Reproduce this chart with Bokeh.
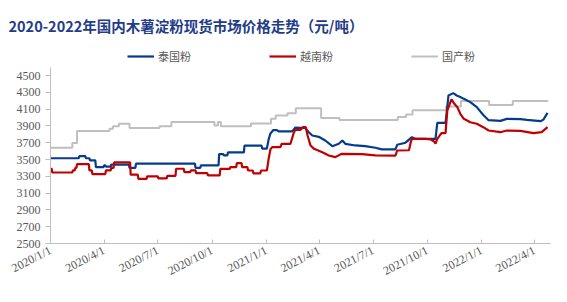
import math
from datetime import datetime
from bokeh.plotting import figure
from bokeh.models import (FixedTicker, Range1d, Legend, LegendItem)
from bokeh.embed import file_html
from bokeh.resources import INLINE

title_text = "2020-2022年国内木薯淀粉现货市场价格走势（元/吨）"
series_names = ["泰国粉", "越南粉", "国产粉"]

x_tick_dates = ["2020-01-01", "2020-04-01", "2020-07-01", "2020-10-01", "2021-01-01",
                "2021-04-01", "2021-07-01", "2021-10-01", "2022-01-01", "2022-04-01"]
x_tick_labels = ["2020/1/1", "2020/4/1", "2020/7/1", "2020/10/1", "2021/1/1",
                 "2021/4/1", "2021/7/1", "2021/10/1", "2022/1/1", "2022/4/1"]
y_ticks = [2500, 2700, 2900, 3100, 3300, 3500, 3700, 3900, 4100, 4300, 4500]

# 泰国粉
thai_dates = ["2020-01-01", "2020-02-18", "2020-02-19", "2020-02-29", "2020-03-01", "2020-03-07",
              "2020-03-08", "2020-03-17", "2020-03-18", "2020-03-31", "2020-04-01", "2020-04-03",
              "2020-04-04", "2020-04-12", "2020-04-13", "2020-05-13", "2020-05-14", "2020-05-24",
              "2020-05-25", "2020-09-02", "2020-09-03", "2020-09-11", "2020-09-12", "2020-10-12",
              "2020-10-13", "2020-10-20", "2020-10-21", "2020-10-27", "2020-10-28", "2020-11-24",
              "2020-11-25", "2020-12-24", "2020-12-25", "2021-01-02", "2021-01-05", "2021-01-08",
              "2021-01-13", "2021-01-19", "2021-01-22", "2021-02-14", "2021-02-19", "2021-03-08",
              "2021-03-14", "2021-03-20", "2021-03-31", "2021-04-11", "2021-04-23", "2021-05-04",
              "2021-05-10", "2021-05-15", "2021-06-01", "2021-06-18", "2021-07-05", "2021-07-16",
              "2021-08-08", "2021-08-11", "2021-08-25", "2021-09-05", "2021-09-11", "2021-10-15",
              "2021-10-18", "2021-11-01", "2021-11-06", "2021-11-14", "2021-11-20", "2021-11-26",
              "2021-12-02", "2021-12-13", "2021-12-24", "2022-01-04", "2022-01-13", "2022-02-02",
              "2022-02-13", "2022-03-08", "2022-03-19", "2022-04-11", "2022-04-16", "2022-04-23"]
thai_vals = [3515, 3515, 3540, 3540, 3515, 3515,
             3490, 3490, 3410, 3410, 3430, 3430,
             3415, 3415, 3440, 3440, 3400, 3400,
             3450, 3450, 3400, 3400, 3430, 3430,
             3565, 3565, 3550, 3550, 3585, 3585,
             3665, 3665, 3630, 3630, 3740, 3810,
             3850, 3850, 3835, 3835, 3880, 3875,
             3825, 3786, 3770, 3726, 3658, 3687,
             3726, 3687, 3667, 3660, 3640, 3620,
             3620, 3675, 3700, 3766, 3745, 3746,
             3935, 3935, 4262, 4290, 4262, 4245,
             4222, 4183, 4123, 4030, 3968, 3960,
             3984, 3980, 3972, 3956, 3975, 4055]

# 越南粉
viet_dates = ["2020-01-01", "2020-01-03", "2020-01-04", "2020-02-07", "2020-02-08", "2020-02-11",
              "2020-02-12", "2020-02-14", "2020-02-15", "2020-03-06", "2020-03-07", "2020-03-11",
              "2020-03-12", "2020-04-03", "2020-04-04", "2020-04-12", "2020-04-13", "2020-04-17",
              "2020-04-18", "2020-05-15", "2020-05-16", "2020-05-28", "2020-05-29", "2020-06-12",
              "2020-06-13", "2020-07-01", "2020-07-02", "2020-07-16", "2020-07-17", "2020-07-31",
              "2020-08-01", "2020-08-14", "2020-08-15", "2020-08-25", "2020-08-26", "2020-09-03",
              "2020-09-04", "2020-09-23", "2020-09-24", "2020-10-14", "2020-10-15", "2020-10-31",
              "2020-11-01", "2020-11-11", "2020-11-12", "2020-11-20", "2020-11-21", "2020-11-30",
              "2020-12-01", "2020-12-09", "2020-12-10", "2020-12-22", "2020-12-23", "2021-01-02",
              "2021-01-05", "2021-01-08", "2021-01-11", "2021-01-25", "2021-01-27", "2021-02-11",
              "2021-02-16", "2021-02-19", "2021-02-28", "2021-03-04", "2021-03-09", "2021-03-12",
              "2021-03-17", "2021-03-23", "2021-04-06", "2021-04-17", "2021-04-28", "2021-05-09",
              "2021-06-12", "2021-07-05", "2021-08-08", "2021-08-11", "2021-08-31", "2021-09-03",
              "2021-09-05", "2021-09-28", "2021-10-07", "2021-10-12", "2021-10-15", "2021-10-18",
              "2021-10-25", "2021-11-01", "2021-11-04", "2021-11-11", "2021-11-16", "2021-11-21",
              "2021-11-26", "2021-12-02", "2021-12-13", "2021-12-24", "2022-01-04", "2022-01-13",
              "2022-02-02", "2022-02-13", "2022-03-08", "2022-03-30", "2022-04-13", "2022-04-23"]
viet_vals = [3390, 3390, 3345, 3345, 3370, 3370,
             3400, 3400, 3445, 3445, 3370, 3370,
             3325, 3325, 3370, 3370, 3400, 3400,
             3465, 3465, 3320, 3320, 3270, 3270,
             3300, 3300, 3275, 3275, 3305, 3305,
             3390, 3390, 3350, 3350, 3370, 3370,
             3337, 3337, 3310, 3310, 3389, 3389,
             3409, 3409, 3456, 3456, 3409, 3409,
             3369, 3369, 3335, 3335, 3369, 3369,
             3508, 3620, 3647, 3647, 3687, 3687,
             3805, 3853, 3853, 3885, 3885, 3786,
             3667, 3627, 3587, 3548, 3528, 3568,
             3565, 3548, 3545, 3607, 3610, 3706,
             3746, 3746, 3738, 3718, 3690, 3746,
             3813, 3813, 4083, 4215, 4163, 4123,
             4044, 3984, 3944, 3925, 3885, 3845,
             3825, 3845, 3840, 3815, 3825, 3885]

# 国产粉 (change dates, stepwise)
dom_dates = ["2020-01-01", "2020-02-07", "2020-02-15", "2020-04-10", "2020-04-16", "2020-04-26",
             "2020-05-14", "2020-07-04", "2020-07-24", "2020-10-05", "2020-10-11", "2020-10-16",
             "2020-12-06", "2021-01-09", "2021-01-17", "2021-02-06", "2021-02-20", "2021-04-04",
             "2021-05-05", "2021-08-12", "2021-08-26", "2021-09-06", "2021-11-02", "2021-11-27",
             "2022-01-14", "2022-02-23", "2022-04-24"]
dom_vals = [3640, 3695, 3840, 3865, 3895, 3925,
            3875, 3895, 3945, 3905, 3945, 3895,
            3930, 3985, 4025, 4050, 4110, 3995,
            3970, 4005, 4035, 4085, 4130, 4195,
            4150, 4195, 4195]

y_min, y_max = 2500, 4600


def to_dt(lst):
    return [datetime.strptime(s, "%Y-%m-%d") for s in lst]


def to_ms(s):
    return (datetime.strptime(s, "%Y-%m-%d") - datetime(1970, 1, 1)).total_seconds() * 1000.0


W, H = 567, 302
frame_top, frame_bottom = 45, 243
axis_top = 66.6
p = figure(width=W, height=H, x_axis_type="datetime", output_backend="svg",
           toolbar_location=None, min_border_left=50, min_border_right=17,
           min_border_top=frame_top, min_border_bottom=H - frame_bottom)
p.x_range = Range1d(to_ms("2020-01-01"), to_ms("2022-04-28"))
# extra head-room above the axis holds the legend inside the frame
units_per_px = (y_max - y_min) / (frame_bottom - axis_top)
p.y_range = Range1d(y_min, y_max + (axis_top - frame_top) * units_per_px)
p.outline_line_color = None
p.xgrid.visible = False
p.ygrid.visible = False
p.background_fill_color = "white"
p.border_fill_color = "white"

blue, red, gray = "#053B8C", "#C00000", "#BFBFBF"

r_dom = p.step(to_dt(dom_dates), dom_vals, mode="after", line_color=gray, line_width=2)
r_thai = p.line(to_dt(thai_dates), thai_vals, line_color=blue, line_width=2.2)
r_viet = p.line(to_dt(viet_dates), viet_vals, line_color=red, line_width=2.2)

# axes
p.xaxis.ticker = FixedTicker(ticks=[to_ms(d) for d in x_tick_dates])
p.xaxis.major_label_overrides = {to_ms(d): l for d, l in zip(x_tick_dates, x_tick_labels)}
p.xaxis.major_label_orientation = math.radians(27)
p.yaxis.ticker = FixedTicker(ticks=y_ticks)
p.yaxis.bounds = (y_min, y_max)
for ax in (p.xaxis, p.yaxis):
    ax.axis_line_color = "#BFBFBF"
    ax.major_tick_line_color = "#BFBFBF"
    ax.minor_tick_line_color = None
    ax.major_label_text_color = "#595959"
    ax.major_label_text_font = "Liberation Serif"
    ax.major_label_text_font_size = "12px"
p.xaxis.major_tick_in = 4
p.xaxis.major_tick_out = 0
p.yaxis.major_tick_in = 0
p.yaxis.major_tick_out = 5
p.yaxis.major_label_standoff = 5
p.xaxis.major_label_standoff = 6

# title
p.title.text = title_text
p.title.align = "left"
p.title.offset = -42
p.title.text_font = "Noto Sans CJK SC"
p.title.text_font_size = "14.5px"
p.title.text_font_style = "bold"
p.title.text_color = "#1F3C88"
p.title.vertical_align = "top"
p.title.standoff = 16

# legend (inside the head-room of the frame)
lg = Legend(items=[LegendItem(label=series_names[0], renderers=[r_thai]),
                   LegendItem(label=series_names[1], renderers=[r_viet]),
                   LegendItem(label=series_names[2], renderers=[r_dom])],
            location=(77, 179), orientation="horizontal", border_line_color=None,
            background_fill_alpha=0, padding=0, margin=0, spacing=78,
            glyph_width=27, glyph_height=16, label_standoff=4,
            label_text_font="Noto Sans CJK SC", label_text_font_size="11px",
            label_text_color="#595959")
p.add_layout(lg, "center")

open("out.html", "w").write(file_html(p, INLINE))
